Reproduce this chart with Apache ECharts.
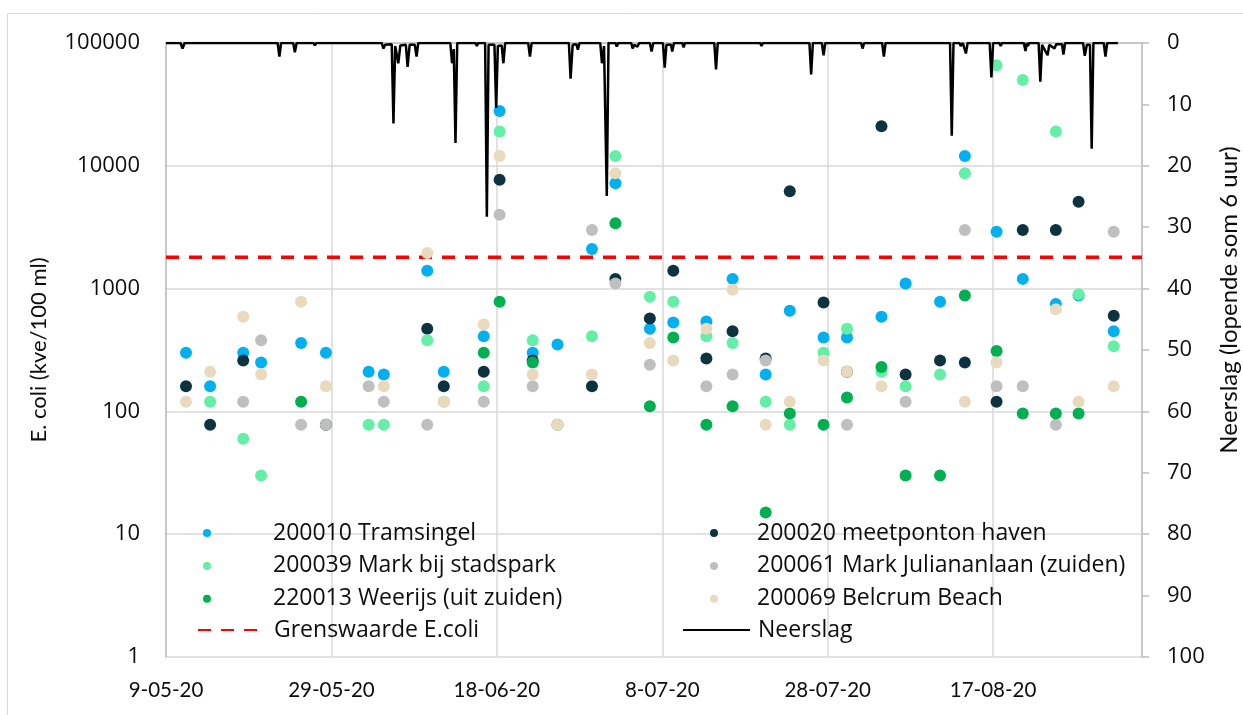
<!DOCTYPE html>
<html><head><meta charset="utf-8">
<script src="https://cdn.jsdelivr.net/npm/echarts@6/dist/echarts.min.js"></script>
<style>html,body{margin:0;padding:0;background:#fff}#c{width:1243px;height:715px}</style>
</head><body><div id="c"></div><script>
// sampling moments (2020, MM-DD HH:mm)
const sampleDates = ['05-11 10:00','05-14 08:00','05-18 08:00','05-20 12:00','05-25 08:00','05-28 08:00','06-02 12:00','06-04 08:00','06-09 14:00','06-11 14:00','06-16 10:00','06-18 08:00','06-22 08:00','06-25 08:00','06-29 12:00','07-02 08:00','07-06 12:00','07-09 08:00','07-13 08:00','07-16 12:00','07-20 12:00','07-23 10:00','07-27 12:00','07-30 08:00','08-03 12:00','08-06 10:00','08-10 14:00','08-13 14:00','08-17 10:00','08-20 14:00','08-24 14:00','08-27 08:00','08-31 14:00'];
const tramsingel   = [300,160,300,250,360,300,210,200,1400,210,410,28000,300,350,2100,7200,470,530,540,1200,200,660,400,400,590,1100,780,12000,2900,1200,750,880,450];
const meetponton   = [160,78,260,null,null,78,null,null,470,160,210,7700,260,null,160,1200,570,1400,270,450,270,6200,770,210,21000,200,260,250,120,3000,3000,5100,600];
const stadspark    = [null,120,60,30,null,null,78,78,380,120,160,19000,380,null,410,12000,860,780,410,360,120,78,300,470,210,160,200,8700,66000,50000,19000,900,340];
const julianalaan  = [null,null,120,380,78,78,160,120,78,null,120,4000,160,null,3000,1100,240,null,160,200,260,null,null,78,null,120,null,3000,160,160,78,null,2900];
const weerijs      = [null,null,null,null,120,null,null,null,null,null,300,780,250,78,null,3400,110,400,78,110,15,96,78,130,230,30,30,880,310,96,96,96,null];
const belcrum      = [120,210,590,200,780,160,null,160,1950,120,510,12000,200,78,200,8700,360,260,470,980,78,120,260,210,160,null,null,120,250,null,680,120,160];
const grenswaarde = 1800;
// running 6-hour precipitation sum (mm)
const neerslag = [["05-09 00:00",0],["05-10 18:00",0],["05-11 00:00",0.9],["05-11 06:00",0],["05-22 12:00",0],["05-22 17:00",2.2],["05-22 22:00",0],["05-24 09:00",0],["05-24 14:00",1.5],["05-24 19:00",0],["05-26 20:00",0],["05-27 00:00",0.4],["05-27 04:00",0],
["06-04 02:00",0],["06-04 07:00",0.9],["06-04 12:00",0.3],["06-05 07:00",0.2],["06-05 12:00",13.1],["06-05 17:00",0.5],["06-05 21:00",0.2],["06-06 02:00",3.3],["06-06 08:00",0.4],["06-07 00:00",0.3],["06-07 05:00",3.9],["06-07 11:00",0.3],["06-08 02:00",0.3],["06-08 07:00",2.2],["06-08 12:00",0],
["06-12 09:00",0],["06-12 14:00",3.3],["06-12 19:00",1.0],["06-13 00:00",16.3],["06-13 05:00",0],["06-15 10:00",0],["06-15 14:00",0.5],["06-15 18:00",0],["06-16 14:00",0],["06-16 19:00",28.3],["06-17 00:00",0.3],["06-17 17:00",0.3],["06-17 22:00",10.6],["06-18 03:00",0.5],["06-18 14:00",0.4],["06-18 19:00",3.3],["06-19 00:00",0],
["06-21 19:00",0],["06-22 00:00",2.2],["06-22 05:00",0],["06-24 06:00",0],["06-24 10:00",0.3],["06-24 14:00",0],["06-26 17:00",0],["06-26 22:00",5.8],["06-27 04:00",0.3],["06-27 15:00",0.2],["06-27 19:00",1.1],["06-28 00:00",0],
["06-30 12:00",0],["06-30 17:00",3.3],["06-30 23:00",0.5],["07-01 07:00",24.9],["07-01 12:00",0],["07-02 08:00",0],["07-02 12:00",0.6],["07-02 16:00",0],["07-04 06:00",0],["07-04 10:00",0.9],["07-04 15:00",0.3],["07-05 00:00",0.6],["07-05 05:00",0],
["07-06 12:00",0],["07-06 17:00",1.4],["07-06 22:00",0],["07-08 02:00",0],["07-08 07:00",4.0],["07-08 12:00",0.3],["07-09 01:00",0.3],["07-09 05:00",1.4],["07-09 10:00",0],["07-10 10:00",0],["07-10 14:00",0.7],["07-10 18:00",0],
["07-14 07:00",0],["07-14 12:00",4.3],["07-14 17:00",0],["07-19 20:00",0],["07-20 00:00",0.5],["07-20 04:00",0],["07-25 19:00",0],["07-26 00:00",5.1],["07-26 05:00",0],["07-27 07:00",0],["07-27 12:00",2.0],["07-27 17:00",0],
["08-01 01:00",0],["08-01 05:00",0.9],["08-01 10:00",0],["08-03 14:00",0],["08-03 19:00",2.2],["08-04 00:00",0],["08-09 20:00",0],["08-10 00:00",0.3],["08-10 04:00",0],["08-11 19:00",0],["08-12 00:00",15.1],["08-12 05:00",0],
["08-12 22:00",0],["08-13 02:00",0.5],["08-13 08:00",0],["08-13 12:00",0],["08-13 17:00",1.7],["08-13 22:00",0],["08-15 13:00",0],["08-15 17:00",0.3],["08-15 21:00",0],["08-16 14:00",0],["08-16 19:00",5.6],["08-17 00:00",0],
["08-17 18:00",0],["08-17 22:00",0.5],["08-18 02:00",0],["08-20 17:00",0],["08-20 22:00",1.3],["08-21 02:00",0],["08-21 05:00",0.5],["08-21 09:00",0],["08-22 12:00",0],["08-22 17:00",6.3],["08-22 22:00",0.3],["08-23 14:00",2.0],["08-23 19:00",0.3],
["08-24 10:00",0.9],["08-24 15:00",0.2],["08-25 08:00",0.2],["08-25 12:00",1.9],["08-25 17:00",0],["08-27 21:00",0],["08-28 02:00",2.1],["08-28 08:00",0.3],["08-28 17:00",0.3],["08-28 22:00",17.2],["08-29 03:00",0],
["08-30 09:00",0],["08-30 14:00",2.2],["08-30 19:00",0],["09-01 02:00",0]];
const xTickLabels = ['9-05-20','29-05-20','18-06-20','8-07-20','28-07-20','17-08-20'];
const xEndDate = '09-04 00:00';

function dayOf(s){
  const p = s.split(' '); const md = p[0].split('-').map(Number); const hm = p[1].split(':').map(Number);
  return (Date.UTC(2020, md[0]-1, md[1], hm[0], hm[1]) - Date.UTC(2020,4,9))/86400000;
}
function pts(vals){
  const out = [];
  sampleDates.forEach((d,i)=>{ if (vals[i] != null) out.push([dayOf(d), vals[i]]); });
  return out;
}
const xMax = dayOf(xEndDate);
const txt = '#0d0d0d';
const lato = 'Lato';
function sc(name, vals, color){
  return {name, type:'scatter', data: pts(vals), symbol:'circle', symbolSize:12,
    itemStyle:{color, opacity:1}, emphasis:{disabled:true}, z:3};
}
const chart = echarts.init(document.getElementById('c'), null, {renderer:'canvas'});
const legText = (pad)=>({fontFamily:'Open Sans', fontSize:23, color:txt, lineHeight:24, padding:[0,0,0,pad]});
const legBase = {orient:'vertical', padding:0, selectedMode:false};
chart.setOption({
  animation:false,
  backgroundColor:'#fff',
  graphic:[{type:'rect', shape:{x:7.5,y:13.5,width:1260,height:720}, style:{fill:'none', stroke:'#d9d9d9', lineWidth:1}, silent:true, z:-10}],
  grid:{left:166, right:101, top:43, bottom:58, containLabel:false, outerBoundsMode:'none'},
  legend:[
    Object.assign({data:['200010 Tramsingel','200039 Mark bij stadspark','220013 Weerijs (uit zuiden)'], left:203, top:521, icon:'circle', itemWidth:8, itemHeight:8, itemGap:8.9, textStyle:legText(57)}, legBase),
    Object.assign({data:['Grenswaarde E.coli'], left:197, top:618, itemWidth:59, itemHeight:14, itemStyle:{opacity:0}, textStyle:legText(12)}, legBase),
    Object.assign({data:['200020 meetponton haven','200061 Mark Juliananlaan (zuiden)','200069 Belcrum Beach'], left:710, top:521, icon:'circle', itemWidth:8, itemHeight:8, itemGap:8.9, textStyle:legText(34)}, legBase),
    Object.assign({data:['Neerslag'], left:682, top:618, itemWidth:67, itemHeight:14, itemStyle:{opacity:0}, textStyle:legText(3)}, legBase)
  ],
  xAxis:{type:'value', min:0, max:xMax, interval:20,
    axisLine:{show:true, lineStyle:{color:'#bfbfbf', width:1.5}}, axisTick:{show:false},
    splitLine:{show:true, lineStyle:{color:'#d9d9d9', width:1.5}},
    axisLabel:{showMaxLabel:false, margin:23, fontFamily:lato, fontSize:20.5, color:txt,
      formatter:(v)=>{ const i = Math.round(v/20); return (Math.abs(v - i*20) < 1e-6 && xTickLabels[i]) ? xTickLabels[i] : ''; }}
  },
  yAxis:[
    {type:'log', logBase:10, min:1, max:100000, position:'left',
      name:'E. coli (kve/100 ml)', nameLocation:'middle', nameRotate:90, nameGap:116,
      nameTextStyle:{fontFamily:lato, fontSize:22, color:txt},
      axisLine:{show:true, lineStyle:{color:'#bfbfbf', width:1.5}}, axisTick:{show:false}, minorTick:{show:false},
      splitLine:{show:true, lineStyle:{color:'#d9d9d9', width:1.5}},
      axisLabel:{margin:26, fontFamily:'Open Sans', fontSize:22, color:txt, formatter:(v)=>String(Math.round(v))}},
    {type:'value', min:0, max:100, interval:10, inverse:true, position:'right',
      name:'Neerslag (lopende som 6 uur)', nameLocation:'middle', nameRotate:90, nameGap:75,
      nameTextStyle:{fontFamily:lato, fontSize:24, color:txt, padding:[0,0,0,100]},
      axisLine:{show:true, lineStyle:{color:'#bfbfbf', width:1.5}},
      axisTick:{show:true, inside:false, length:7, lineStyle:{color:'#bfbfbf', width:1.5}},
      splitLine:{show:false},
      axisLabel:{margin:25, fontFamily:'Open Sans', fontSize:22, color:txt}}
  ],
  series:[
    sc('200010 Tramsingel', tramsingel, '#00b0f0'),
    sc('200020 meetponton haven', meetponton, '#0e3340'),
    sc('200039 Mark bij stadspark', stadspark, '#63efa5'),
    sc('200061 Mark Juliananlaan (zuiden)', julianalaan, '#bfbfbf'),
    sc('220013 Weerijs (uit zuiden)', weerijs, '#00b050'),
    sc('200069 Belcrum Beach', belcrum, '#e9dabd'),
    {name:'Grenswaarde E.coli', type:'line', data:[[0,grenswaarde],[xMax,grenswaarde]], symbol:'none',
      lineStyle:{color:'#ff0000', width:3.5, type:[13,10]}, itemStyle:{color:'#ff0000'}, z:2, emphasis:{disabled:true}},
    {name:'Neerslag', type:'line', yAxisIndex:1, data: neerslag.map(r=>[dayOf(r[0]), r[1]]), symbol:'none',
      lineStyle:{color:'#000', width:2.5}, itemStyle:{color:'#000'}, z:4, emphasis:{disabled:true}}
  ]
});
</script></body></html>
